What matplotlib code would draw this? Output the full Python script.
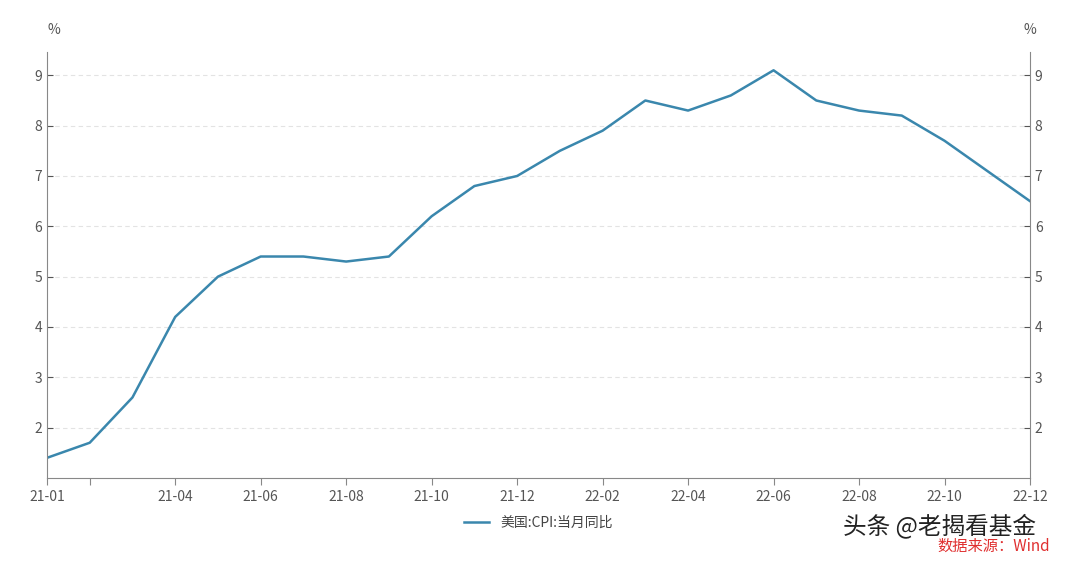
import matplotlib.pyplot as plt

plt.rcParams['font.family'] = ['Noto Sans CJK SC', 'DejaVu Sans']

months = ["21-01", "21-02", "21-03", "21-04", "21-05", "21-06", "21-07", "21-08",
          "21-09", "21-10", "21-11", "21-12", "22-01", "22-02", "22-03", "22-04",
          "22-05", "22-06", "22-07", "22-08", "22-09", "22-10", "22-11", "22-12"]
cpi = [1.4, 1.7, 2.6, 4.2, 5.0, 5.4, 5.4, 5.3, 5.4, 6.2, 6.8, 7.0,
       7.5, 7.9, 8.5, 8.3, 8.6, 9.1, 8.5, 8.3, 8.2, 7.7, 7.1, 6.5]
yticks = [2, 3, 4, 5, 6, 7, 8, 9]

fig = plt.figure(figsize=(10.8, 5.61), dpi=100)
ax = fig.add_axes([0.0435, 0.148, 0.9102, 0.759])
x = list(range(len(months)))
ax.plot(x, cpi, color="#3a87ad", lw=1.8, label="美国:CPI:当月同比")

ax.set_xlim(0, len(months) - 1)
ax.set_ylim(1.0, 9.46)
tick_pos = [0, 1] + list(range(3, len(months), 2))
ax.set_xticks(tick_pos)
ax.set_xticklabels([months[i] if i != 1 else "" for i in tick_pos])
ax.set_yticks(yticks)
ax.tick_params(axis="y", left=True, right=True, labelleft=True, labelright=True,
               direction="in", labelsize=10, colors="#555555", length=4)
ax.tick_params(axis="x", length=5, color="#888888", labelsize=10, labelcolor="#555555")
ax.grid(axis="y", ls=(0, (4, 3)), color="#e3e3e3", lw=0.8)
ax.spines["top"].set_visible(False)
for s in ["left", "right", "bottom"]:
    ax.spines[s].set_color("#888888")

fig.text(0.05, 0.94, "%", fontsize=10, color="#555555", ha="center")
fig.text(0.954, 0.94, "%", fontsize=10, color="#555555", ha="center")

ax.legend(loc="upper center", bbox_to_anchor=(0.5, -0.06), frameon=False,
          fontsize=10, handlelength=1.8, labelcolor="#444444")

# watermark and source, overlapping a little as in the original
fig.text(0.92, 0.018, "数据来源：Wind", color="#e03030", fontsize=11, ha="center")
fig.text(0.87, 0.05, "头条 @老揭看基金", color="#222222", fontsize=17, ha="center")

fig.savefig("out.png")
